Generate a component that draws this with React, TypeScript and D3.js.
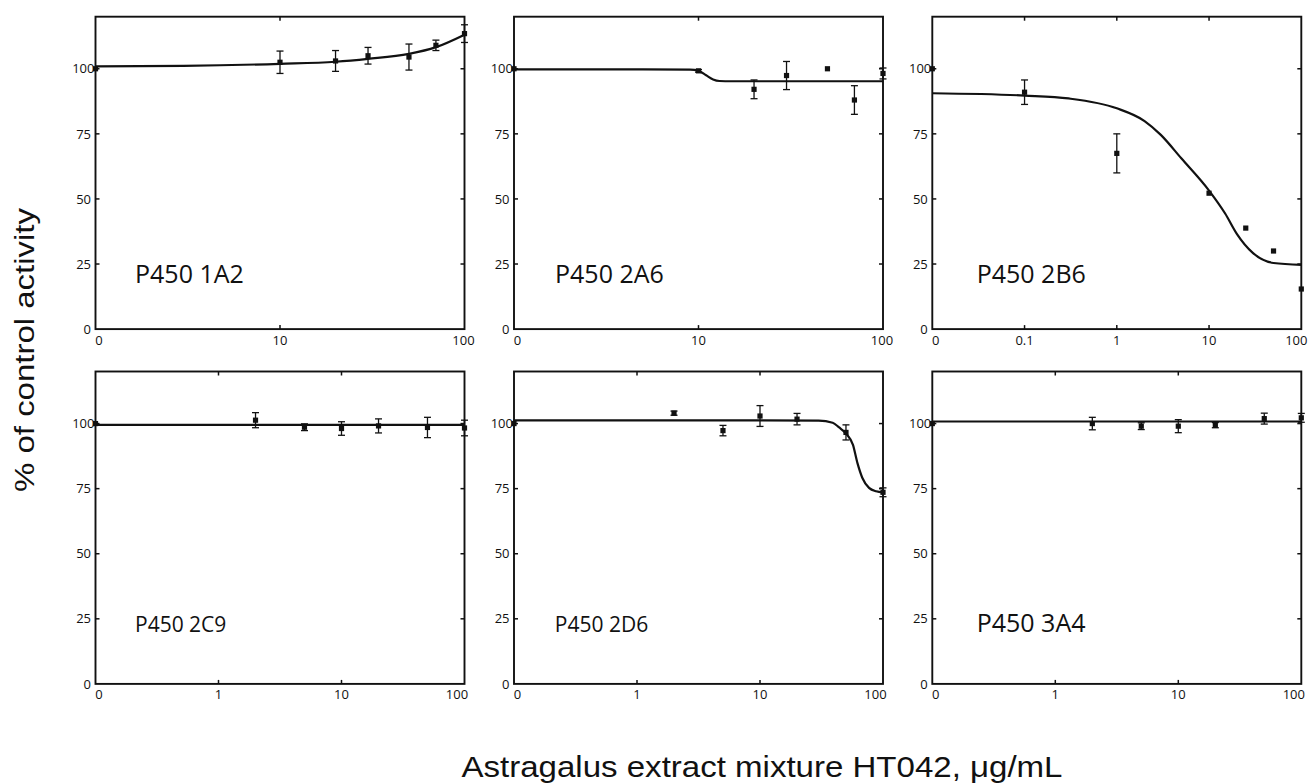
import React from "react";
import * as d3 from "d3";

// panel names, row by row
const panelNames = ["P450 1A2", "P450 2A6", "P450 2B6", "P450 2C9", "P450 2D6", "P450 3A4"];

// x ticks (log scale, leftmost tick stands for the 0 concentration)
const xTicksTop = [1, 10, 100];
const xLabelsTop = ["0", "10", "100"];
const xTicks2B6 = [0.01, 0.1, 1, 10, 100];
const xLabels2B6 = ["0", "0.1", "1", "10", "100"];
const xTicksBottom = [0.1, 1, 10, 100];
const xLabelsBottom = ["0", "1", "10", "100"];
const yTicks = [0, 25, 50, 75, 100];

// measured points: concentration, % activity, error
const conc1A2 = [0, 10, 20, 30, 50, 70, 100];
const mean1A2 = [100, 102.5, 103, 105, 104.5, 109, 113.5];
const err1A2 = [0, 4.3, 4, 3.2, 5, 2, 3.4];
const fitX1A2 = [1, 3, 10, 20, 30, 50, 70, 100];
const fitY1A2 = [100.9, 101.1, 101.9, 102.7, 103.8, 105.7, 108.3, 113.1];

const conc2A6 = [0, 10, 20, 30, 50, 70, 100];
const mean2A6 = [100, 99.2, 92.1, 97.4, 100, 88, 98.2];
const err2A6 = [0, 0.5, 3.6, 5.4, 0, 5.5, 2.1];
const fitX2A6 = [1, 5, 9, 10, 11, 12, 13, 15, 30, 100];
const fitY2A6 = [99.8, 99.8, 99.7, 99.2, 97.5, 95.9, 95.3, 95.2, 95.2, 95.2];

const conc2B6 = [0, 0.1, 1, 10, 25, 50, 100];
const mean2B6 = [100, 91, 67.5, 52.2, 38.8, 30, 15.4];
const err2B6 = [0, 4.7, 7.5, 0, 0, 0, 0];
const fitX2B6 = [0.01, 0.1, 0.3, 1, 2, 3, 5, 10, 15, 20, 30, 50, 100];
const fitY2B6 = [90.6, 89.7, 88.6, 84.8, 79.9, 74.6, 65.6, 53.2, 44.3, 36.6, 29.2, 25.4, 24.7];

const conc2C9 = [0, 2, 5, 10, 20, 50, 100];
const mean2C9 = [100, 101.3, 98.6, 98.1, 99.1, 98.5, 98.3];
const err2C9 = [0, 2.9, 1.3, 2.6, 2.7, 3.9, 3];
const fitX2C9 = [0.1, 100];
const fitY2C9 = [99.5, 99.5];

const conc2D6 = [0, 2, 5, 10, 20, 50, 100];
const mean2D6 = [100, 104, 97.3, 102.9, 101.7, 96.6, 73.6];
const err2D6 = [0, 0.8, 2, 4, 2.2, 2.9, 1.7];
const fitX2D6 = [0.1, 10, 30, 39, 44, 50, 57, 62, 68, 77, 88, 100];
const fitY2D6 = [101.2, 101.2, 101.1, 100.3, 98.5, 96.2, 91.8, 84.8, 79.1, 75.3, 74, 73.6];

const conc3A4 = [0, 2, 5, 10, 20, 50, 100];
const mean3A4 = [100, 100, 99, 99, 99.4, 101.9, 102.2];
const err3A4 = [0, 2.4, 1.3, 2.5, 1, 2.1, 1.7];
const fitX3A4 = [0.1, 100];
const fitY3A4 = [100.8, 100.8];

const panels = [
  { conc: conc1A2, mean: mean1A2, err: err1A2, fx: fitX1A2, fy: fitY1A2, ticks: xTicksTop, labels: xLabelsTop },
  { conc: conc2A6, mean: mean2A6, err: err2A6, fx: fitX2A6, fy: fitY2A6, ticks: xTicksTop, labels: xLabelsTop },
  { conc: conc2B6, mean: mean2B6, err: err2B6, fx: fitX2B6, fy: fitY2B6, ticks: xTicks2B6, labels: xLabels2B6 },
  { conc: conc2C9, mean: mean2C9, err: err2C9, fx: fitX2C9, fy: fitY2C9, ticks: xTicksBottom, labels: xLabelsBottom },
  { conc: conc2D6, mean: mean2D6, err: err2D6, fx: fitX2D6, fy: fitY2D6, ticks: xTicksBottom, labels: xLabelsBottom },
  { conc: conc3A4, mean: mean3A4, err: err3A4, fx: fitX3A4, fy: fitY3A4, ticks: xTicksBottom, labels: xLabelsBottom },
];

// layout
const colLeft = [95.5, 514, 932.3];
const rowTop = [16.7, 371.5];
const pw = 369;
const ph = 312.4;
const labelSize = [25, 25, 25, 21, 21, 25];
const labelDx = [39.5, 41, 44.4, 39.5, 40.8, 44.4];
const labelDy = [46.3, 46.3, 46.3, 52.3, 52.3, 52.3];
const lastLabelDx = [-1, -1, -5, -7.5, -7.5, -7.5];
const ink = "#111";
const tickFont = "'Open Sans', sans-serif";

function Panel({ idx }: { idx: number }) {
  const p = panels[idx];
  const left = colLeft[idx % 3];
  const top = rowTop[Math.floor(idx / 3)];
  const xmin = p.ticks[0];
  const x = d3.scaleLog().domain([xmin, 100]).range([left, left + pw]);
  const y = d3.scaleLinear().domain([0, 120]).range([top + ph, top]);
  const px = (c: number) => x(c === 0 ? xmin : c);

  const line = d3
    .line<[number, number]>()
    .x((d) => x(d[0]))
    .y((d) => y(d[1]))
    .curve(d3.curveMonotoneX);
  const fit = p.fx.map((v, i) => [v, p.fy[i]] as [number, number]);

  const inner = p.ticks.slice(1, -1);
  const tl = 4;

  return (
    <g>
      {/* fitted curve */}
      <path d={line(fit) || ""} fill="none" stroke={ink} strokeWidth={2.2} />
      {/* error bars */}
      {p.conc.map((c, i) =>
        p.err[i] > 0 ? (
          <g key={"e" + i} stroke={ink} strokeWidth={1.3}>
            <line x1={px(c)} x2={px(c)} y1={y(p.mean[i] - p.err[i])} y2={y(p.mean[i] + p.err[i])} />
            <line x1={px(c) - 3.5} x2={px(c) + 3.5} y1={y(p.mean[i] + p.err[i])} y2={y(p.mean[i] + p.err[i])} />
            <line x1={px(c) - 3.5} x2={px(c) + 3.5} y1={y(p.mean[i] - p.err[i])} y2={y(p.mean[i] - p.err[i])} />
          </g>
        ) : null
      )}
      {/* markers */}
      {p.conc.map((c, i) => (
        <rect key={"m" + i} x={px(c) - 2.6} y={y(p.mean[i]) - 2.6} width={5.2} height={5.2} fill={ink} />
      ))}
      {/* frame */}
      <rect x={left} y={top} width={pw} height={ph} fill="none" stroke={ink} strokeWidth={1.9} />
      {/* inward ticks */}
      {inner.map((t) => (
        <g key={"xt" + t} stroke={ink} strokeWidth={1.5}>
          <line x1={x(t)} x2={x(t)} y1={top + ph} y2={top + ph - tl} />
          <line x1={x(t)} x2={x(t)} y1={top} y2={top + tl} />
        </g>
      ))}
      {yTicks.slice(1).map((t) => (
        <g key={"yt" + t} stroke={ink} strokeWidth={1.5}>
          <line x1={left} x2={left + tl} y1={y(t)} y2={y(t)} />
          <line x1={left + pw} x2={left + pw - tl} y1={y(t)} y2={y(t)} />
        </g>
      ))}
      {/* tick labels */}
      {p.ticks.map((t, i) => {
        let dx = 0;
        if (i === 0) dx = 3.5;
        if (i === p.ticks.length - 1) dx = lastLabelDx[idx];
        return (
          <text key={"xl" + t} x={x(t) + dx} y={top + ph + 15.5} textAnchor="middle"
            fontFamily={tickFont} fontSize={13} fill={ink}>
            {p.labels[i]}
          </text>
        );
      })}
      {yTicks.map((t) => (
        <text key={"yl" + t} x={left - (t === 100 ? 1 : 4.5)} y={y(t)} dy="0.36em" textAnchor="end"
          fontFamily={tickFont} fontSize={13} fill={ink}>
          {t}
        </text>
      ))}
      <text x={left + labelDx[idx]} y={top + ph - labelDy[idx]} fontFamily={tickFont}
        fontSize={labelSize[idx]} fill={ink}>
        {panelNames[idx]}
      </text>
    </g>
  );
}

export default function App() {
  return (
    <svg width={1309} height={784} style={{ position: "absolute", left: 0, top: 0, background: "#fff" }}>
      <rect width={1309} height={784} fill="#fff" />
      {panels.map((_, i) => (
        <Panel key={i} idx={i} />
      ))}
      <text transform="translate(33.5,350) rotate(-90)" textAnchor="middle"
        fontFamily="'Liberation Sans', Arial, sans-serif" fontSize={27} fill={ink}
        textLength={284} lengthAdjust="spacingAndGlyphs">
        % of control activity
      </text>
      <text x={762} y={776.7} textAnchor="middle" fontFamily="'Liberation Sans', Arial, sans-serif"
        fontSize={30} fill={ink} textLength={601} lengthAdjust="spacingAndGlyphs">
        Astragalus extract mixture HT042, μg/mL
      </text>
    </svg>
  );
}
